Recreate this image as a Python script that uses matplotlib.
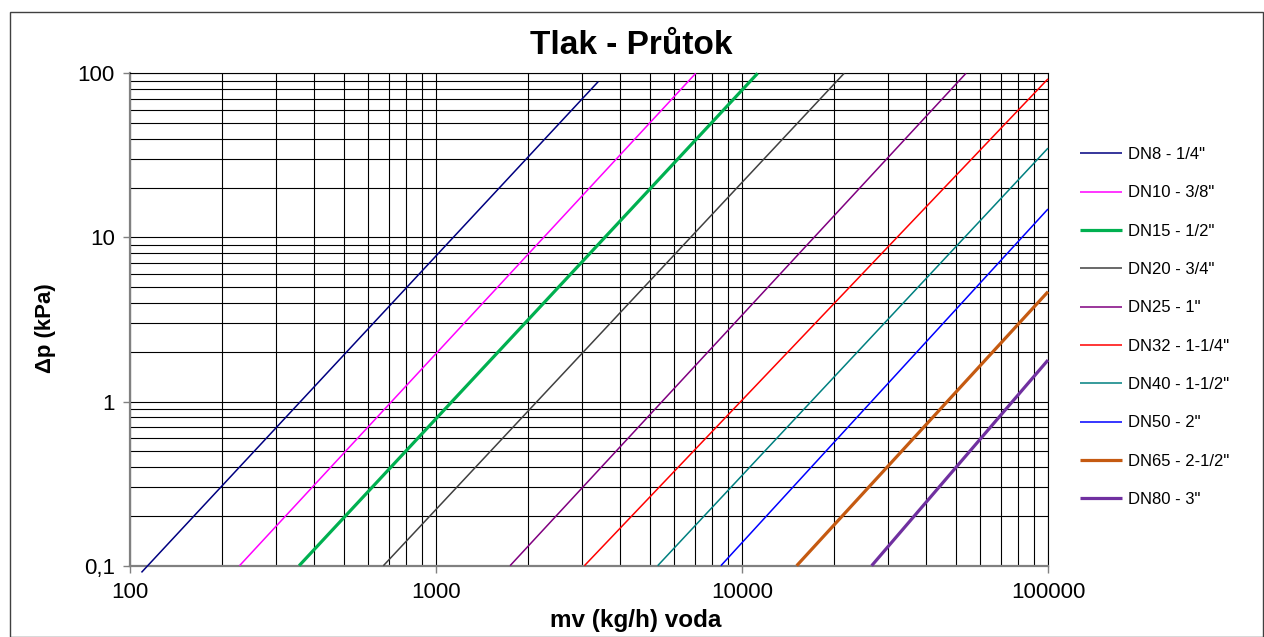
import matplotlib
matplotlib.use("Agg")
import matplotlib.pyplot as plt
from matplotlib.ticker import FixedLocator, LogLocator, NullFormatter, FixedFormatter
from matplotlib.patches import Rectangle

plt.rcParams['font.family'] = ['Liberation Sans', 'DejaVu Sans']

# ---- data ----
series_labels = ['DN8 - 1/4"', 'DN10 - 3/8"', 'DN15 - 1/2"', 'DN20 - 3/4"', 'DN25 - 1"',
                 'DN32 - 1-1/4"', 'DN40 - 1-1/2"', 'DN50 - 2"', 'DN65 - 2-1/2"', 'DN80 - 3"']
flow_start = [109, 228, 357, 673, 1746, 3055, 5302, 8532, 15090, 26530]
flow_end = [3390, 7060, 11250, 21570, 53950, 100000, 100000, 100000, 100000, 100000]
dp_start = [0.091, 0.1, 0.1, 0.1, 0.1, 0.1, 0.1, 0.1, 0.1, 0.1]
dp_end = [89, 100, 100, 100, 100, 92.5, 35, 14.9, 4.67, 1.79]

x_ticks = [100, 1000, 10000, 100000]
x_tick_labels = ['100', '1000', '10000', '100000']
y_ticks = [0.1, 1, 10, 100]
y_tick_labels = ['0,1', '1', '10', '100']

# ---- styles ----
colors = ['#000080', '#FF00FF', '#00B050', '#404040', '#800080',
          '#FF0000', '#008080', '#0000FF', '#C55A11', '#7030A0']
widths = [1.1, 1.1, 2.3, 1.1, 1.1, 1.1, 1.1, 1.1, 2.3, 2.3]

W, H = 1264, 637
fig = plt.figure(figsize=(W / 100, H / 100), dpi=100)
ax = fig.add_axes([130 / W, 1 - 565.7 / H, (1048 - 130) / W, (565.7 - 73.3) / H])

for lab, x0, x1, y0, y1, c, lw in zip(series_labels, flow_start, flow_end, dp_start, dp_end, colors, widths):
    ax.plot([x0, x1], [y0, y1], color=c, lw=lw, label=lab, clip_on=False, zorder=3,
            solid_capstyle='butt')

ax.set_xscale('log')
ax.set_yscale('log')
ax.set_xlim(100, 100000)
ax.set_ylim(0.1, 100)

ax.xaxis.set_major_locator(FixedLocator(x_ticks))
ax.xaxis.set_major_formatter(FixedFormatter(x_tick_labels))
ax.yaxis.set_major_locator(FixedLocator(y_ticks))
ax.yaxis.set_major_formatter(FixedFormatter(y_tick_labels))
ax.xaxis.set_minor_locator(LogLocator(base=10, subs=range(2, 10), numticks=20))
ax.yaxis.set_minor_locator(LogLocator(base=10, subs=range(2, 10), numticks=20))
ax.xaxis.set_minor_formatter(NullFormatter())
ax.yaxis.set_minor_formatter(NullFormatter())

ax.set_axisbelow(True)
ax.grid(which='both', color='black', lw=0.8)
ax.tick_params(which='major', length=5, width=1, color='#808080', labelsize=16)
ax.tick_params(axis='x', which='major', pad=7)
ax.tick_params(axis='y', which='major', pad=6)
ax.tick_params(which='minor', length=0)

for s in ['left', 'bottom']:
    ax.spines[s].set_color('#808080')
    ax.spines[s].set_linewidth(1.6)
for s in ['top', 'right']:
    ax.spines[s].set_color('black')
    ax.spines[s].set_linewidth(0.8)

fig.text(631 / W, 1 - 45 / H, 'Tlak - Průtok', ha='center', va='center',
         fontsize=24, fontweight='bold')
fig.text(636 / W, 1 - 620 / H, 'mv (kg/h) voda', ha='center', va='center',
         fontsize=17.5, fontweight='bold')
fig.text(46 / W, 1 - 328 / H, 'Δp (kPa)', ha='center', va='center', rotation=90,
         fontsize=16, fontweight='bold')

leg = ax.legend(loc='upper left', bbox_to_anchor=(1080 / W, 1 - 147 / H),
                bbox_transform=fig.transFigure, frameon=False, fontsize=12,
                handlelength=2.5, handletextpad=0.35, labelspacing=1.4,
                borderpad=0, borderaxespad=0)

fig.patches.append(Rectangle((10 / W, 0.5 / H), (1263 - 10) / W, (H - 12 - 0.5) / H,
                             transform=fig.transFigure, fill=False,
                             edgecolor='#404040', lw=1.0))

fig.savefig('out.png', dpi=100)
